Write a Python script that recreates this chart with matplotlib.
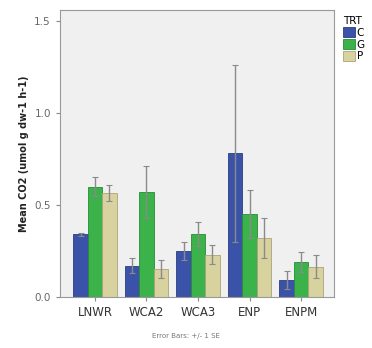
import numpy as np
import matplotlib.pyplot as plt

sites = ["LNWR", "WCA2", "WCA3", "ENP", "ENPM"]
trt = ["C", "G", "P"]
mean_c = [0.34, 0.17, 0.25, 0.78, 0.09]
mean_g = [0.60, 0.57, 0.34, 0.45, 0.19]
mean_p = [0.565, 0.15, 0.23, 0.32, 0.165]
se_c = [0.01, 0.04, 0.05, 0.48, 0.05]
se_g = [0.05, 0.14, 0.065, 0.13, 0.055]
se_p = [0.045, 0.05, 0.05, 0.11, 0.065]

colors = ["#3b52a9", "#3bb34a", "#d8d29e"]
edges = ["#2c3d80", "#2a8a36", "#a9a47a"]

fig = plt.figure(figsize=(3.72, 3.48), dpi=100)
ax = fig.add_axes([0.161, 0.147, 0.737, 0.824])
ax.set_facecolor("#f0f0f0")

x = np.arange(len(sites))
w = 0.28
for i, (m, s) in enumerate(zip([mean_c, mean_g, mean_p], [se_c, se_g, se_p])):
    pos = x + (i - 1) * w
    ax.bar(pos, m, width=w, color=colors[i], edgecolor=edges[i],
           linewidth=0.6, label=trt[i], zorder=2)
    ax.errorbar(pos, m, yerr=s, fmt="none", ecolor="#8a8a8a",
                elinewidth=1, capsize=2, capthick=0.8, zorder=3)

ax.set_xlim(-0.68, 4.64)
ax.set_ylim(0, 1.56)
ax.set_xticks(x)
ax.set_xticklabels(sites, fontsize=8.5, color="#333333")
ax.set_yticks([0, 0.5, 1.0, 1.5])
ax.set_yticklabels(["0.0", "0.5", "1.0", "1.5"], fontsize=7.5, color="#666666")
ax.tick_params(length=3, color="#888888")
for sp in ax.spines.values():
    sp.set_color("#999999")
ax.set_ylabel("Mean CO2 (umol g dw-1 h-1)", fontsize=7, fontweight="bold",
              color="#222222", labelpad=4)

leg = ax.legend(title="TRT", loc="upper left", bbox_to_anchor=(1.01, 1.0),
                frameon=False, fontsize=7.5, title_fontsize=7.5,
                handlelength=1.1, handleheight=1.1, handletextpad=0.2,
                labelspacing=0.1, borderaxespad=0.2)
leg._legend_box.align = "left"

fig.text(0.5, 0.03, "Error Bars: +/- 1 SE", fontsize=5, color="#777777", ha="center")

fig.savefig("out.png", dpi=100)
